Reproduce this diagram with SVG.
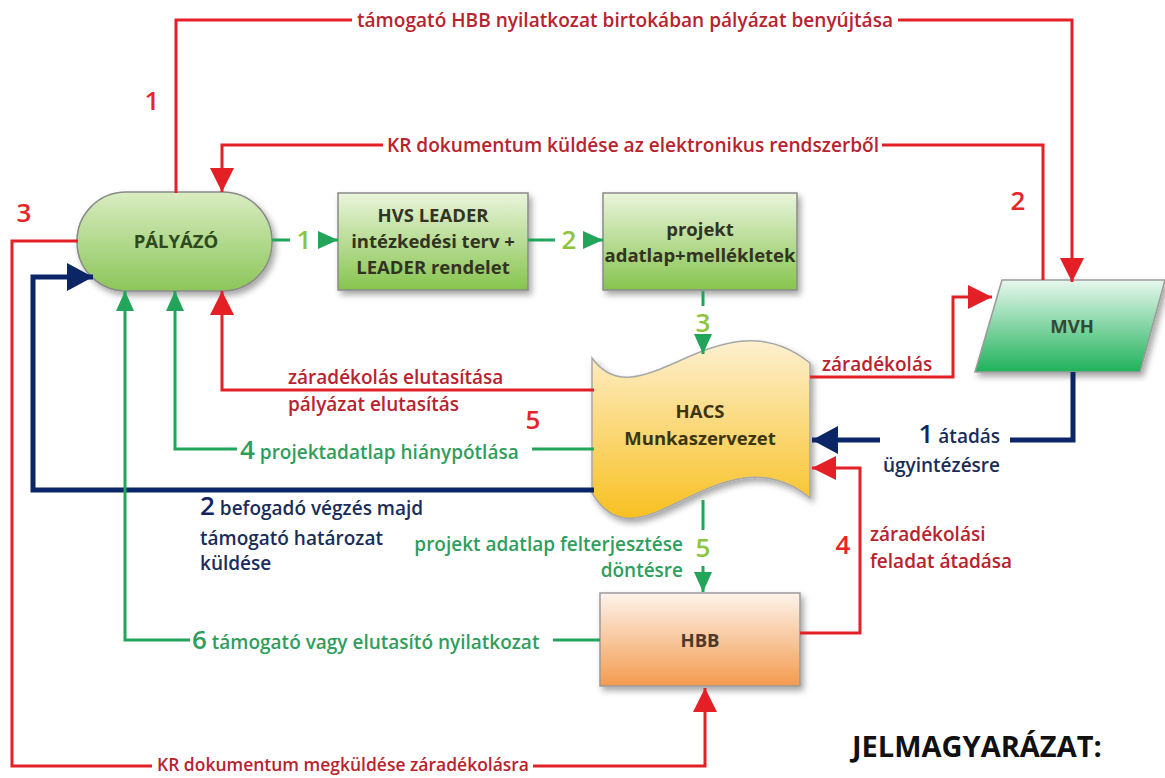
<svg xmlns="http://www.w3.org/2000/svg" width="1165" height="778" viewBox="0 0 1165 778">
<style>
text{font-family:"Open Sans","Liberation Sans",sans-serif;font-weight:600}
.lr{fill:#b8232e;font-size:19px}
.lg{fill:#2f9e5c;font-size:19px}
.ln{fill:#1a2d5a;font-size:19px}
.num{font-size:26px;font-weight:600}
.nr{fill:#e52628}
.ngl{fill:#8dc540}
.ng{fill:#2f9e5c}
.nn{fill:#0f2460}
.node{font-size:18.5px;fill:#333322;text-anchor:middle;font-weight:700}
.cr{fill:none;stroke:#e41f26;stroke-width:3}
.cg{fill:none;stroke:#22a45a;stroke-width:3}
.cn{fill:none;stroke:#0b2566;stroke-width:5}
</style>
<defs>
<marker id="ar" markerUnits="userSpaceOnUse" markerWidth="24" markerHeight="24" refX="24" refY="12" orient="auto"><path d="M0,0 L24,12 L0,24 z" fill="#e41f26"/></marker>
<marker id="ag" markerUnits="userSpaceOnUse" markerWidth="20" markerHeight="18" refX="20" refY="9" orient="auto"><path d="M0,0 L20,9 L0,18 z" fill="#22a45a"/></marker>
<marker id="an" markerUnits="userSpaceOnUse" markerWidth="26" markerHeight="28" refX="26" refY="14" orient="auto"><path d="M0,0 L26,14 L0,28 z" fill="#0b2566"/></marker>
<linearGradient id="gGreen" x1="0" y1="0" x2="0" y2="1"><stop offset="0" stop-color="#eaf4dc"/><stop offset="1" stop-color="#86c44e"/></linearGradient>
<linearGradient id="gPill" x1="0" y1="0" x2="0" y2="1"><stop offset="0" stop-color="#d9ecc2"/><stop offset="1" stop-color="#8cc659"/></linearGradient>
<linearGradient id="gMvh" x1="0" y1="0" x2="0" y2="1"><stop offset="0" stop-color="#e8f7ee"/><stop offset="1" stop-color="#1fb25a"/></linearGradient>
<linearGradient id="gHacs" x1="0" y1="0" x2="0" y2="1"><stop offset="0" stop-color="#fdf0cf"/><stop offset="1" stop-color="#f8c021"/></linearGradient>
<linearGradient id="gHbb" x1="0" y1="0" x2="0" y2="1"><stop offset="0" stop-color="#fdf3ec"/><stop offset="1" stop-color="#f39b4e"/></linearGradient>
<filter id="sh" x="-10%" y="-10%" width="130%" height="130%"><feDropShadow dx="3" dy="4" stdDeviation="3" flood-color="#000" flood-opacity="0.35"/></filter>
</defs>
<rect width="1165" height="778" fill="#ffffff"/>

<g id="node-palyazo">
<rect x="77" y="192" width="195" height="99" rx="49" fill="url(#gPill)" stroke="#8a8a8a" stroke-width="1.5" filter="url(#sh)"/>
<text class="node" x="176" y="248" style="fill:#2d4a1c">PÁLYÁZÓ</text>
</g>
<g id="node-hvs">
<rect x="338" y="193" width="190" height="97" fill="url(#gGreen)" stroke="#8a8a8a" stroke-width="1.5" filter="url(#sh)"/>
<text class="node" x="433" y="222">HVS LEADER</text>
<text class="node" x="433" y="248">intézkedési terv +</text>
<text class="node" x="433" y="274">LEADER rendelet</text>
</g>
<g id="node-projekt">
<rect x="603" y="193" width="194" height="97" fill="url(#gGreen)" stroke="#8a8a8a" stroke-width="1.5" filter="url(#sh)"/>
<text class="node" x="700" y="236">projekt</text>
<text class="node" x="700" y="262">adatlap+mellékletek</text>
</g>
<g id="node-hacs">
<path d="M592,358 C640,425 720,290 810,363 V498 C720,425 640,575 592,493 Z" fill="url(#gHacs)" stroke="#a8a8a8" stroke-width="1.5" filter="url(#sh)"/>
<text class="node" x="700" y="418" style="fill:#3d3512">HACS</text>
<text class="node" x="700" y="445" style="fill:#3d3512">Munkaszervezet</text>
</g>
<g id="node-mvh">
<path d="M1002,280 H1165 L1140,372 H975 Z" fill="url(#gMvh)" stroke="#9a9a9a" stroke-width="1.5" filter="url(#sh)"/>
<text class="node" x="1072" y="333" style="fill:#2f4a30">MVH</text>
</g>
<g id="node-hbb">
<rect x="600" y="593" width="200" height="93" fill="url(#gHbb)" stroke="#9a9a9a" stroke-width="1.5" filter="url(#sh)"/>
<text class="node" x="700" y="647" style="fill:#4a3a2a">HBB</text>
</g>

<g id="connectors">
<path class="cr" d="M176,193 V20 H352"/>
<path class="cr" d="M898,20 H1072 V282" marker-end="url(#ar)"/>
<path class="cr" d="M1043,280 V145 H882"/>
<path class="cr" d="M383,145 H222 V192" marker-end="url(#ar)"/>
<path class="cr" d="M78,241 H12 V766 H152"/>
<path class="cr" d="M533,766 H705 V688" marker-end="url(#ar)"/>
<path class="cn" d="M594,490 H33 V277 H93" marker-end="url(#an)"/>
<path class="cg" d="M600,640 H553"/>
<path class="cg" d="M190,640 H125 V291" marker-end="url(#ag)"/>
<path class="cg" d="M594,449 H532"/>
<path class="cg" d="M237,449 H175 V291" marker-end="url(#ag)"/>
<path class="cr" d="M594,390 H222 V291" marker-end="url(#ar)"/>
<path class="cg" d="M272,240 H290"/>
<path class="cg" d="M318,240 H338" marker-end="url(#ag)"/>
<path class="cg" d="M528,240 H555"/>
<path class="cg" d="M583,240 H603" marker-end="url(#ag)"/>
<path class="cg" d="M703,291 V306"/>
<path class="cg" d="M703,338 V354" marker-end="url(#ag)"/>
<path class="cr" d="M810,377 H953 V297 H992" marker-end="url(#ar)"/>
<path class="cn" d="M1073,372 V440 H1010"/>
<path class="cn" d="M880,440 H812" marker-end="url(#an)"/>
<path class="cr" d="M800,633 H860 V468 H812" marker-end="url(#ar)"/>
<path class="cg" d="M703,500 V530"/>
<path class="cg" d="M703,566 V592" marker-end="url(#ag)"/>
</g>

<g id="labels">
<text class="lr" x="357" y="27" textLength="536" lengthAdjust="spacingAndGlyphs">támogató HBB nyilatkozat birtokában pályázat benyújtása</text>
<text class="lr" x="387" y="152" textLength="492" lengthAdjust="spacingAndGlyphs">KR dokumentum küldése az elektronikus rendszerből</text>
<text class="lr" x="157" y="771" style="font-size:18px" textLength="372" lengthAdjust="spacingAndGlyphs">KR dokumentum megküldése záradékolásra</text>
<text class="num nr" x="152" y="110" text-anchor="middle">1</text>
<text class="num nr" x="1018" y="210" text-anchor="middle">2</text>
<text class="num nr" x="24" y="222" text-anchor="middle">3</text>
<text class="num nr" x="533" y="429" text-anchor="middle">5</text>
<text class="num nr" x="843" y="554" text-anchor="middle">4</text>
<text class="num ngl" x="304" y="249" text-anchor="middle">1</text>
<text class="num ngl" x="569" y="249" text-anchor="middle">2</text>
<text class="num ngl" x="703" y="332" text-anchor="middle">3</text>
<text class="num ngl" x="703" y="557" text-anchor="middle">5</text>
<text class="lr" x="288" y="384">záradékolás elutasítása</text>
<text class="lr" x="288" y="411">pályázat elutasítás</text>
<text class="lr" x="822" y="371">záradékolás</text>
<text class="lr" x="870" y="541">záradékolási</text>
<text class="lr" x="870" y="568">feladat átadása</text>
<text class="lg" x="240" y="459"><tspan class="num ng">4</tspan> projektadatlap hiánypótlása</text>
<text class="lg" x="192" y="649"><tspan class="num ng">6</tspan> támogató vagy elutasító nyilatkozat</text>
<text class="lg" x="683" y="551" text-anchor="end">projekt adatlap felterjesztése</text>
<text class="lg" x="683" y="577" text-anchor="end">döntésre</text>
<text class="ln" x="200" y="515"><tspan class="num nn">2</tspan> befogadó végzés majd</text>
<text class="ln" x="200" y="545">támogató határozat</text>
<text class="ln" x="200" y="570">küldése</text>
<text class="ln" x="1000" y="443" text-anchor="end"><tspan class="num nn">1</tspan> átadás</text>
<text class="ln" x="1000" y="472" text-anchor="end">ügyintézésre</text>
<text x="852" y="757" style="font-size:29px;fill:#111;font-weight:700">JELMAGYARÁZAT:</text>
</g>
</svg>
